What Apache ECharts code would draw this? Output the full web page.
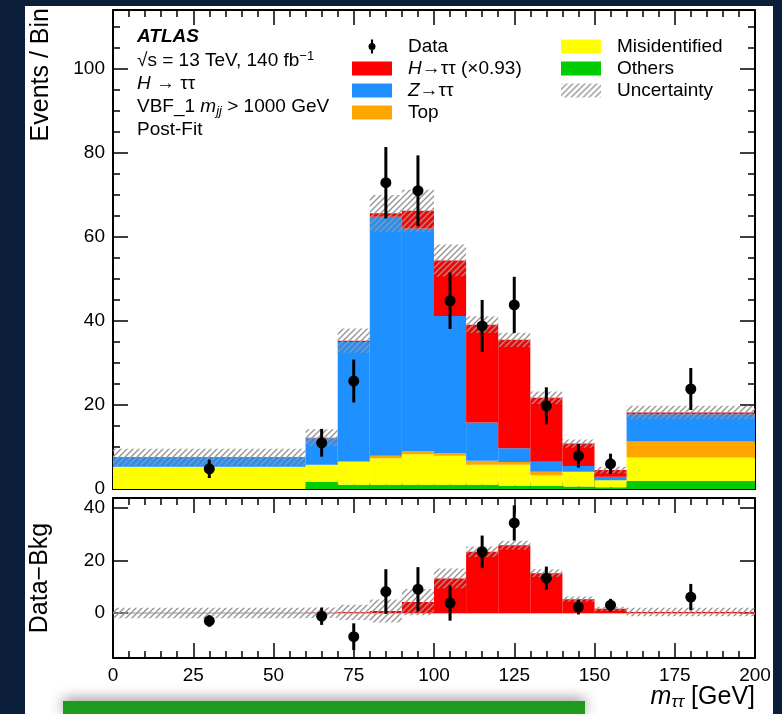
<!DOCTYPE html>
<html>
<head>
<meta charset="utf-8">
<script src="https://cdn.jsdelivr.net/npm/echarts@6/dist/echarts.min.js"></script>
<style>
html, body { margin: 0; padding: 0; background: #0b1f3b; }
#chart { width: 782px; height: 714px; }
</style>
</head>
<body>
<div id="chart"></div>
<script>
// m_tautau bins [GeV]
var binLo = [0, 60, 70, 80, 90, 100, 110, 120, 130, 140, 150, 160];
var binHi = [60, 70, 80, 90, 100, 110, 120, 130, 140, 150, 160, 200];

// post-fit yields per bin (stack order: bottom -> top)
var others = [0, 1.7, 1.0, 1.0, 1.0, 1.0, 1.0, 0.8, 0.7, 0.6, 0.4, 1.9];
var misid  = [5.3, 4.0, 5.4, 6.3, 7.3, 6.9, 4.8, 5.0, 2.5, 3.5, 1.7, 5.6];
var topq   = [0, 0.1, 0.2, 0.6, 0.7, 0.6, 0.9, 0.6, 0.9, 0, 0, 3.8];
var ztt    = [2.3, 6.3, 28.4, 56.9, 53.0, 32.7, 9.1, 3.3, 2.4, 1.4, 0.8, 6.5];
var htt    = [0, 0.1, 0.3, 0.8, 4.2, 13.2, 23.3, 25.8, 15.2, 5.3, 1.6, 0.4];
var unc    = [2.0, 2.0, 2.9, 4.4, 5.0, 3.8, 2.0, 1.7, 1.5, 1.0, 0.8, 1.6];

// data points
var dataX   = [30, 65, 75, 85, 95, 105, 115, 125, 135, 145, 155, 180];
var dataY   = [4.8, 11.0, 25.7, 72.9, 71.0, 44.8, 38.8, 43.8, 19.8, 7.9, 6.0, 23.8];
var dataErr = [2.2, 3.3, 5.1, 8.5, 8.4, 6.7, 6.2, 6.7, 4.4, 2.8, 2.4, 5.0];
var diffY   = [-3.0, -1.2, -9.0, 8.2, 9.1, 3.8, 23.3, 34.3, 13.3, 2.3, 3.0, 6.1];

// tick labels
var xTicks = [0, 25, 50, 75, 100, 125, 150, 175, 200];
var yTicks = [0, 20, 40, 60, 80, 100];
var rTicks = [0, 20, 40];

var FONT = 'Liberation Sans';

var xMinor = [], yMinor = [];
for (var v = 5; v < 200; v += 5) if (v % 25) xMinor.push(v);
for (var w = 5; w < 114; w += 5) if (w % 20) yMinor.push(w);

// hatch pattern for uncertainty bands
function hatch() {
    var c = document.createElement('canvas');
    c.width = 6; c.height = 6;
    var g = c.getContext('2d');
    g.strokeStyle = '#959595';
    g.lineWidth = 1.4;
    g.beginPath();
    g.moveTo(-1, 7); g.lineTo(7, -1);
    g.moveTo(-4, 4); g.lineTo(4, -4);
    g.moveTo(2, 10); g.lineTo(10, 2);
    g.stroke();
    return { image: c, repeat: 'repeat' };
}
var HATCH = hatch();

function tickAxis(grid, pos, min, max, vals, len, line, labels) {
    return {
        type: 'value', gridIndex: grid, position: pos, min: min, max: max,
        axisLine: { show: line, onZero: false, lineStyle: { color: '#000', width: 2 } },
        axisTick: { show: true, inside: true, length: len, customValues: vals,
                    lineStyle: { color: '#000', width: 1.5 } },
        axisLabel: labels ? { show: true, customValues: vals, fontFamily: FONT, fontSize: 19,
                              color: '#000', margin: 8 } : { show: false },
        splitLine: { show: false }
    };
}

// cumulative stack
var layers = [others, misid, topq, ztt, htt];
var cum = [binLo.map(function () { return 0; })];
layers.forEach(function (arr, k) {
    cum.push(arr.map(function (val, i) { return cum[k][i] + val; }));
});
var total = cum[cum.length - 1];

function renderBand(params, api) {
    var a = api.coord([api.value(0), api.value(3)]);
    var b = api.coord([api.value(1), api.value(2)]);
    return { type: 'rect', shape: { x: a[0], y: a[1], width: b[0] - a[0], height: b[1] - a[1] },
             style: { fill: api.visual('color') } };
}
function renderHatch(params, api) {
    var a = api.coord([api.value(0), api.value(3)]);
    var b = api.coord([api.value(1), api.value(2)]);
    return { type: 'rect', shape: { x: a[0], y: a[1], width: b[0] - a[0], height: b[1] - a[1] },
             style: { fill: HATCH } };
}
function renderErr(params, api) {
    var a = api.coord([api.value(0), api.value(1) - api.value(2)]);
    var b = api.coord([api.value(0), api.value(1) + api.value(2)]);
    return { type: 'line', shape: { x1: a[0], y1: a[1], x2: b[0], y2: b[1] },
             style: { stroke: '#000', lineWidth: 3 } };
}

function band(name, ax, lo, hi, color, z) {
    return {
        name: name, type: 'custom', xAxisIndex: ax, yAxisIndex: ax, z: z, clip: true,
        renderItem: color === HATCH ? renderHatch : renderBand,
        itemStyle: { color: color },
        encode: { x: [0, 1], y: [2, 3] },
        data: binLo.map(function (l, i) { return [l, binHi[i], lo[i], hi[i]]; })
    };
}
function errBars(ax, ys) {
    return {
        type: 'custom', xAxisIndex: ax, yAxisIndex: ax, z: 6, clip: true,
        renderItem: renderErr, encode: { x: 0, y: 1 },
        data: dataX.map(function (x, i) { return [x, ys[i], dataErr[i]]; })
    };
}
function points(ax, ys) {
    return {
        name: 'Data', type: 'scatter', xAxisIndex: ax, yAxisIndex: ax, z: 7, symbolSize: 11,
        itemStyle: { color: '#000', opacity: 1 },
        data: dataX.map(function (x, i) { return [x, ys[i]]; })
    };
}

var HNAME = 'H→ττ (×0.93)';
var names = ['Others', 'Misidentified', 'Top', 'Z→ττ', HNAME];
var colors = ['#00cc00', '#ffff00', '#ffa500', '#1e90ff', '#ff0000'];

var series = [];
layers.forEach(function (arr, k) {
    series.push(band(names[k], 0, cum[k], cum[k + 1], colors[k], 2));
});
series.push(band('Uncertainty', 0,
    total.map(function (t, i) { return t - unc[i]; }),
    total.map(function (t, i) { return t + unc[i]; }), HATCH, 3));
series.push(errBars(0, dataY));
series.push(points(0, dataY));

// Data - Bkg panel
series.push({ type: 'line', xAxisIndex: 4, yAxisIndex: 4, z: 1, symbol: 'none', silent: true,
              lineStyle: { color: '#999', width: 1 }, data: [[0, 0], [200, 0]] });
series.push(band(HNAME, 4, binLo.map(function () { return 0; }), htt, '#ff0000', 2));
series.push(band('Uncertainty', 4,
    htt.map(function (h, i) { return h - unc[i]; }),
    htt.map(function (h, i) { return h + unc[i]; }), HATCH, 3));
series.push(errBars(4, diffY));
series.push(points(4, diffY));

var legendText = {
    fontFamily: FONT, fontSize: 19, color: '#000', padding: [0, 0, 0, 11],
    rich: { i: { fontStyle: 'italic', fontFamily: FONT, fontSize: 19, color: '#000' } }
};
function legendFmt(n) {
    if (n === HNAME) return '{i|H}→ττ (×0.93)';
    if (n === 'Z→ττ') return '{i|Z}→ττ';
    return n;
}
var dataIcon = 'path://M4.5,0 H7.5 V5.5 H4.5 Z M4.5,14.5 H7.5 V20 H4.5 Z M6,5 A5,5 0 1 1 6,15 A5,5 0 1 1 6,5 Z';

function txt(x, y, text, rich, extra) {
    var st = { text: text, fontFamily: FONT, fontSize: 19, fill: '#000', verticalAlign: 'middle', rich: rich || {} };
    for (var k in extra) st[k] = extra[k];
    return { type: 'text', x: x, y: y, style: st };
}

var chart = echarts.init(document.getElementById('chart'));
chart.setOption({
    backgroundColor: '#0b1f3b',
    animation: false,
    grid: [
        { left: 113, top: 10, width: 642, height: 479, outerBoundsMode: 'none' },
        { left: 113, top: 498, width: 642, height: 160, outerBoundsMode: 'none' }
    ],
    xAxis: [
        tickAxis(0, 'bottom', 0, 200, xTicks, 15, true, false),
        tickAxis(0, 'bottom', 0, 200, xMinor, 7, false, false),
        tickAxis(0, 'top', 0, 200, xTicks, 15, true, false),
        tickAxis(0, 'top', 0, 200, xMinor, 7, false, false),
        tickAxis(1, 'bottom', 0, 200, xTicks, 15, true, true),
        tickAxis(1, 'bottom', 0, 200, xMinor, 7, false, false),
        tickAxis(1, 'top', 0, 200, xTicks, 15, true, false),
        tickAxis(1, 'top', 0, 200, xMinor, 7, false, false)
    ],
    yAxis: [
        tickAxis(0, 'left', 0, 114, yTicks, 15, true, true),
        tickAxis(0, 'left', 0, 114, yMinor, 7, false, false),
        tickAxis(0, 'right', 0, 114, yTicks, 15, true, false),
        tickAxis(0, 'right', 0, 114, yMinor, 7, false, false),
        tickAxis(1, 'left', -17.1, 43.8, rTicks, 15, true, true),
        tickAxis(1, 'right', -17.1, 43.8, rTicks, 15, true, false)
    ],
    legend: [
        { left: 352, top: 37, orient: 'vertical', padding: 0, itemWidth: 40, itemHeight: 14, itemGap: 3,
          icon: 'rect', selectedMode: false, textStyle: legendText, formatter: legendFmt,
          data: [{ name: 'Data', icon: dataIcon }, HNAME, 'Z→ττ', 'Top'] },
        { left: 561, top: 37, orient: 'vertical', padding: 0, itemWidth: 40, itemHeight: 14, itemGap: 3,
          icon: 'rect', selectedMode: false, textStyle: legendText, formatter: legendFmt,
          data: ['Misidentified', 'Others', 'Uncertainty'] }
    ],
    graphic: [
        { type: 'rect', z: -100, shape: { x: 25, y: 6, width: 748, height: 708 }, style: { fill: '#fff' } },
        { type: 'rect', shape: { x: 63, y: 701, width: 522, height: 13 },
          style: { fill: '#1e9a1e', shadowBlur: 14, shadowColor: 'rgba(0,0,0,0.45)', shadowOffsetY: -2 } },
        txt(137, 37, 'ATLAS', null, { fontWeight: 'bold', fontStyle: 'italic' }),
        txt(137, 61, '√s = 13 TeV, 140 fb{sup|−1}',
            { sup: { fontFamily: FONT, fontSize: 13, lineHeight: 13, verticalAlign: 'top' } },
            { lineHeight: 22 }),
        txt(137, 84, '{i|H} → ττ', { i: { fontFamily: FONT, fontSize: 19, fontStyle: 'italic' } }),
        txt(137, 107, 'VBF_1 {i|m}{sub|jj} > 1000 GeV',
            { i: { fontFamily: FONT, fontSize: 19, fontStyle: 'italic', lineHeight: 22 },
              sub: { fontFamily: FONT, fontSize: 13, fontStyle: 'italic', lineHeight: 13, verticalAlign: 'bottom' } },
            { lineHeight: 22 }),
        txt(137, 130, 'Post-Fit'),
        { type: 'text', x: 41, y: 8, rotation: Math.PI / 2,
          style: { text: 'Events / Bin', fontFamily: FONT, fontSize: 25, fill: '#000',
                   align: 'right', verticalAlign: 'middle' } },
        { type: 'text', x: 40, y: 578, rotation: Math.PI / 2,
          style: { text: 'Data−Bkg', fontFamily: FONT, fontSize: 25, fill: '#000',
                   align: 'center', verticalAlign: 'middle' } },
        { type: 'text', x: 755, y: 697,
          style: { text: '{i|m}{sub|ττ} [GeV]', fontFamily: FONT, fontSize: 25, fill: '#000',
                   align: 'right', verticalAlign: 'middle', lineHeight: 28,
                   rich: { i: { fontFamily: FONT, fontSize: 25, fontStyle: 'italic', lineHeight: 28 },
                           sub: { fontFamily: FONT, fontSize: 17, fontStyle: 'italic', lineHeight: 17,
                                  verticalAlign: 'bottom' } } } }
    ],
    series: series
});
</script>
</body>
</html>
